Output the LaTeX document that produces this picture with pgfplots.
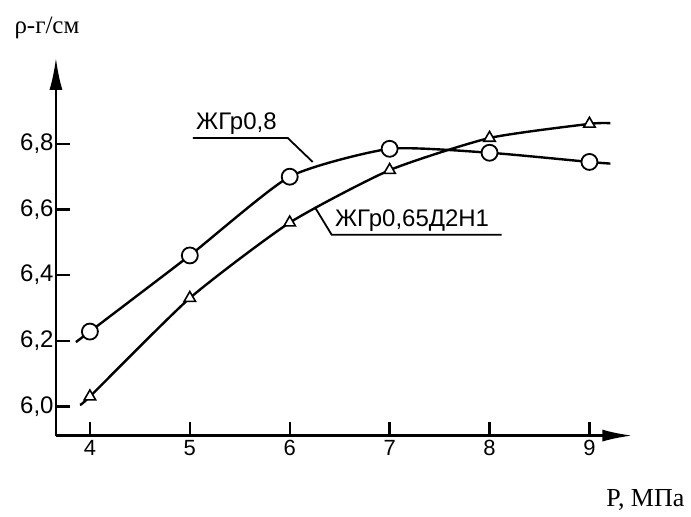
\documentclass[border=0pt]{standalone}
\usepackage{pgfplots}
\pgfplotsset{compat=1.18}
\usepackage{fontspec}
\setmainfont{Liberation Sans}
\newfontfamily\tnr{Liberation Serif}
\usetikzlibrary{arrows.meta}
\begin{document}
\begin{tikzpicture}
\path (-28pt,-38.5pt) rectangle (317.5pt,218pt);
\begin{axis}[
  at={(0,0)}, anchor=south west,
  scale only axis,
  width=288.5pt, height=189pt,
  xmin=3.66, xmax=9.43, ymin=5.911, ymax=7.062,
  axis lines=left,
  axis line style={line width=1.2pt},
  x axis line style={-{Latex[length=15pt,width=6pt]}},
  y axis line style={-{Latex[length=16pt,width=6.5pt]}},
  xtick={4,5,6,7,8,9},
  ytick={6.0,6.2,6.4,6.6,6.8},
  tick align=inside,
  major tick length=7pt,
  tick style={line width=1.2pt, black},
  /pgf/number format/assume math mode=true,
  /pgf/number format/use comma,
  yticklabel style={/pgf/number format/fixed, /pgf/number format/fixed zerofill, /pgf/number format/precision=1, font=\fontsize{12}{14}\selectfont, inner sep=1pt},
  xticklabel style={font=\fontsize{11}{12}\selectfont, inner sep=2pt},
  clip=false,
]
% ZhGr0,8 curve
\addplot[black, line width=1.2pt, smooth, tension=0.35] coordinates {
 (3.86,6.196) (4,6.228) (5,6.46) (6,6.70) (7,6.785) (8,6.773) (9,6.745) (9.21,6.740)};
\addplot[only marks, mark=*, mark size=4pt, mark options={fill=white, draw=black, line width=0.9pt}] coordinates {
 (4,6.228) (5,6.46) (6,6.70) (7,6.785) (8,6.773) (9,6.745)};
% ZhGr0,65D2N1 curve
\addplot[black, line width=1.2pt, smooth, tension=0.35] coordinates {
 (3.90,6.005) (4,6.03) (5,6.33) (6,6.56) (7,6.72) (8,6.818) (9,6.861) (9.21,6.863)};
\addplot[only marks, mark=triangle*, mark size=3.3pt, mark options={fill=white, draw=black, line width=0.8pt}] coordinates {
 (4,6.03) (5,6.33) (6,6.56) (7,6.72) (8,6.818) (9,6.861)};
% annotations
\draw[black, line width=0.9pt] (axis cs:5.03,6.818) -- (axis cs:5.98,6.818) -- (axis cs:6.23,6.745);
\node[anchor=south west, inner sep=1pt, font=\fontsize{12}{13}\selectfont] at (axis cs:5.04,6.822) {ЖГр0,8};
\draw[black, line width=0.9pt] (axis cs:6.25,6.608) -- (axis cs:6.42,6.523) -- (axis cs:8.12,6.523);
\node[anchor=south west, inner sep=1pt, font=\fontsize{12}{13}\selectfont] at (axis cs:6.43,6.527) {ЖГр0,65Д2Н1};
\end{axis}
\node[font=\tnr\fontsize{12.5}{14}\selectfont] at (-4.5pt,204pt) {ρ-г/см};
\node[font=\tnr\fontsize{13}{15}\selectfont] at (295pt,-32pt) {P, МПа};
\end{tikzpicture}
\end{document}
